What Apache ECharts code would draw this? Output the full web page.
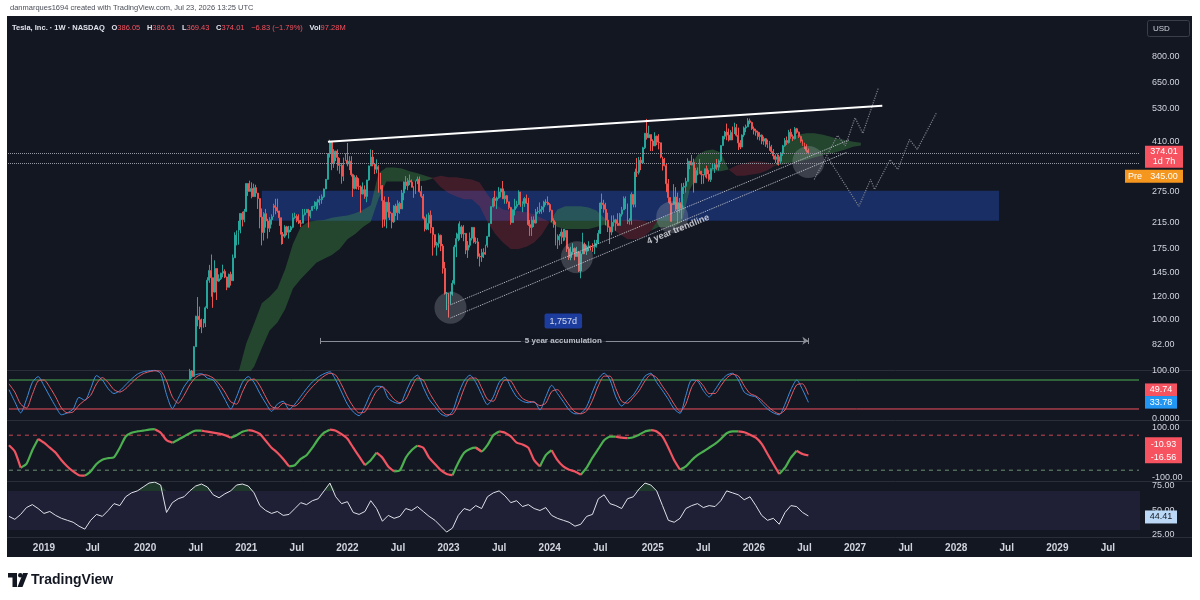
<!DOCTYPE html>
<html>
<head>
<meta charset="utf-8">
<title>Tesla, Inc. 1W</title>
<script src="https://cdn.jsdelivr.net/npm/echarts@6/dist/echarts.min.js"></script>
<style>
  html, body { margin: 0; padding: 0; background: #fff; }
  #main { width: 1200px; height: 600px; }
</style>
</head>
<body>
<div id="main"></div>
<script>
// weekly TSLA bars (split adjusted), first bar = week of 2020-06-01, open of a bar = previous close
const candleStart = '2020-06-01';
const firstOpen = 55.7;
const closes = [
  59.9, 62.4, 66.8, 64.0, 80.9, 102.9, 100.1, 94.5, 99.0, 97.5, 110.0, 136.7, 147.6, 139.4, 124.5, 150.0, 135.8, 138.4, 144.6, 146.6, 140.2, 129.3, 143.3, 136.2, 163.2, 195.3, 199.7, 203.3, 231.7, 220.6, 235.2,
  293.3, 275.6, 282.2, 264.5, 284.0, 272.0, 260.4, 225.2, 199.3, 231.2, 218.3, 206.2, 220.6, 225.7, 246.3, 243.0, 236.3, 224.0, 196.6, 193.6, 208.4, 199.7, 203.3, 207.7, 224.0, 226.3, 219.0, 214.7, 214.5, 229.1, 233.0, 239.1, 226.8, 237.3, 244.5, 245.4, 253.2, 258.1, 258.4, 264.0, 281.0, 303.2, 371.3, 407.4, 344.5, 379.0, 360.6, 338.3, 339.0, 310.7, 355.6, 352.3,
  342.3, 349.9, 314.6, 282.1, 307.8, 286.7, 285.7, 270.0, 279.4, 265.0, 301.8, 336.9, 361.5, 341.8, 328.3, 335.0, 290.3, 288.6, 256.5, 221.3, 253.2, 234.5, 232.2, 216.8, 245.7, 233.1, 250.8, 240.1, 272.2, 297.1, 288.2, 300.0, 296.7, 284.8, 270.2, 299.7, 303.4, 275.3, 265.3, 223.1, 204.9, 214.4, 228.5, 207.5, 195.9, 180.2, 182.9, 194.9, 179.1, 150.2, 123.2, 123.2,
  113.1, 122.4, 133.4, 177.9, 189.9, 196.9, 208.3, 196.9, 197.8, 173.4, 180.1, 190.4, 207.5, 185.0, 185.0, 165.1, 164.3, 170.1, 168.0, 180.1, 193.2, 214.0, 244.4, 260.5, 256.6, 261.8, 274.4, 281.4, 260.0, 266.4, 253.9, 242.6, 215.5, 238.6, 245.0, 248.5, 274.4, 244.9, 250.2, 260.5, 251.1, 212.0, 207.3, 220.0, 214.7, 234.3, 235.5, 238.8, 243.8, 253.5, 252.5, 248.5,
  237.5, 218.9, 212.2, 183.3, 187.9, 193.6, 200.0, 192.0, 202.6, 175.3, 163.6, 170.8, 175.8, 164.9, 171.1, 147.1, 168.3, 181.2, 171.9, 177.5, 179.2, 178.1, 177.5, 178.0, 183.0, 197.9, 251.5, 248.2, 239.2, 219.8, 207.7, 200.0, 216.1, 220.3, 214.1, 210.7, 230.3, 238.3, 260.5, 250.1, 217.8, 218.9, 269.2, 249.0, 321.2, 320.7, 352.6, 345.2, 389.2, 436.2, 421.1, 431.7, 410.4,
  394.7, 426.5, 406.6, 404.6, 361.6, 355.8, 337.8, 293.0, 262.7, 250.0, 248.7, 263.6, 239.4, 252.3, 241.4, 285.0, 287.2, 298.3, 350.0, 339.3, 346.5, 295.1, 325.3, 322.2, 323.6, 315.4, 313.5, 329.7, 316.1, 302.6, 329.7, 330.6, 340.0, 333.9, 350.8, 395.9, 426.1, 440.4, 429.8, 413.5, 439.3, 433.7, 456.6, 429.5, 404.4, 391.1, 430.2, 455.0, 459.0, 481.2, 475.2, 452.0,
  445.0, 440.0, 425.0, 430.0, 410.0, 418.0, 400.0, 405.0, 392.0, 378.0, 365.0, 355.0, 362.0, 350.0, 372.0, 395.0, 412.0, 405.0, 440.0, 425.0, 418.0, 452.0, 440.0, 425.0, 410.0, 400.0, 392.0, 380.84, 374.01
];
const highs = [
  61.5, 67.0, 67.9, 67.3, 81.2, 103.3, 119.7, 111.0, 101.0, 100.7, 111.2, 140.0, 154.3, 167.5, 132.7, 160.0, 150.0, 143.2, 145.0, 154.6, 149.0, 140.5, 144.0, 146.2, 167.5, 199.6, 202.5, 218.4, 231.7, 234.8, 240.0,
  294.0, 290.0, 300.1, 296.0, 293.0, 290.5, 266.2, 256.0, 241.0, 234.0, 240.0, 222.0, 225.0, 230.0, 250.0, 260.0, 260.3, 236.0, 220.0, 200.0, 211.0, 210.0, 210.0, 210.0, 232.0, 233.0, 230.0, 230.0, 220.0, 240.0, 240.0, 240.0, 240.0, 238.0, 246.0, 255.0, 254.0, 260.0, 266.0, 269.0, 282.0, 304.0, 371.7, 414.5, 385.0, 385.0, 380.0, 384.0, 359.0, 345.0, 360.0, 372.0,
  404.0, 364.0, 364.0, 317.0, 313.0, 313.0, 306.0, 289.0, 296.0, 289.0, 302.0, 338.0, 384.0, 382.0, 345.0, 355.0, 339.0, 319.0, 290.0, 265.0, 253.5, 264.0, 253.0, 232.0, 247.0, 250.0, 257.0, 254.0, 279.0, 298.0, 311.0, 306.0, 315.0, 303.0, 287.0, 300.0, 310.0, 310.0, 288.0, 270.0, 226.0, 230.0, 233.0, 237.0, 208.0, 196.0, 185.0, 198.0, 196.0, 182.0, 158.0, 124.5,
  118.8, 125.0, 136.7, 180.7, 199.0, 214.0, 217.6, 211.0, 211.2, 198.6, 186.2, 199.3, 207.8, 198.6, 191.8, 190.7, 169.0, 175.2, 176.0, 181.0, 194.0, 214.0, 245.0, 263.6, 276.9, 264.5, 285.0, 282.0, 299.3, 276.0, 268.0, 250.9, 244.0, 239.0, 260.0, 256.0, 278.0, 275.0, 254.8, 263.6, 268.9, 262.0, 220.0, 226.0, 226.4, 240.0, 244.0, 252.7, 246.0, 256.0, 259.0, 265.0,
  251.3, 238.5, 223.0, 217.0, 196.4, 197.0, 205.6, 205.0, 205.0, 198.0, 178.0, 178.0, 183.0, 177.0, 178.0, 169.0, 171.0, 198.9, 184.0, 179.6, 186.0, 180.0, 183.0, 188.0, 188.0, 203.0, 252.4, 271.0, 258.0, 252.0, 233.0, 209.0, 228.0, 228.2, 222.0, 232.0, 232.7, 244.0, 264.9, 265.0, 250.0, 223.0, 273.5, 263.0, 330.0, 358.6, 361.9, 361.9, 392.0, 436.3, 488.5, 463.0, 416.0,
  416.0, 439.7, 428.0, 433.0, 384.0, 362.7, 359.1, 342.4, 303.9, 253.4, 251.0, 291.9, 285.0, 273.0, 261.5, 294.0, 294.9, 307.0, 358.0, 350.0, 367.7, 357.0, 332.0, 333.0, 356.3, 318.5, 315.0, 330.0, 338.0, 326.0, 330.0, 345.0, 345.0, 356.0, 355.0, 396.7, 427.0, 444.2, 470.8, 453.0, 447.0, 460.0, 474.1, 469.0, 456.0, 413.0, 432.0, 460.0, 467.0, 491.5, 490.0, 478.0,
  460.0, 452.0, 445.0, 440.0, 432.0, 425.0, 420.0, 415.0, 410.0, 398.0, 385.0, 370.0, 372.0, 368.0, 376.0, 398.0, 420.0, 425.0, 448.0, 452.0, 432.0, 458.0, 455.0, 442.0, 428.0, 415.0, 405.0, 400.0, 386.61
];
const lows = [
  58.5, 60.8, 62.0, 63.0, 64.0, 82.0, 95.0, 93.0, 90.0, 94.0, 94.5, 109.0, 134.0, 120.0, 110.0, 124.0, 117.0, 135.0, 137.0, 140.0, 139.0, 126.4, 130.0, 131.0, 136.0, 166.0, 180.0, 181.0, 198.0, 209.0, 216.0,
  239.0, 266.0, 276.0, 261.0, 265.0, 264.0, 240.0, 206.0, 180.0, 187.0, 207.0, 190.0, 200.0, 212.0, 228.0, 230.0, 233.0, 210.0, 181.0, 182.0, 191.0, 195.0, 190.0, 200.0, 206.0, 222.0, 216.0, 213.0, 208.0, 215.0, 228.0, 233.0, 207.0, 223.0, 236.0, 240.0, 237.0, 240.0, 247.0, 250.0, 262.0, 282.0, 302.0, 360.0, 326.0, 332.0, 350.0, 325.0, 317.0, 293.0, 299.0, 350.0,
  336.0, 326.0, 310.0, 264.0, 280.0, 280.0, 279.0, 233.0, 269.0, 260.0, 253.0, 300.0, 340.0, 336.0, 316.0, 318.0, 273.0, 280.0, 206.9, 209.0, 206.0, 224.0, 220.0, 206.0, 215.0, 227.0, 220.0, 231.0, 240.0, 257.0, 280.0, 278.0, 290.0, 285.0, 262.0, 274.0, 292.0, 273.0, 262.0, 221.0, 201.0, 203.0, 203.0, 198.0, 166.0, 177.0, 166.0, 177.0, 172.0, 144.0, 122.0, 108.0,
  101.8, 114.0, 121.0, 132.0, 164.0, 186.0, 188.0, 191.0, 186.0, 168.0, 163.0, 177.0, 187.0, 183.0, 182.0, 162.0, 152.4, 158.0, 163.0, 167.0, 177.0, 198.0, 213.0, 243.0, 245.0, 240.0, 260.0, 263.0, 260.0, 250.0, 250.0, 239.0, 212.0, 215.0, 228.0, 241.0, 249.0, 244.0, 234.0, 244.0, 250.0, 210.0, 194.0, 194.0, 208.0, 214.0, 231.0, 231.0, 231.0, 234.0, 247.0, 247.0,
  234.0, 216.0, 207.0, 180.0, 175.0, 180.0, 182.0, 186.0, 187.0, 171.0, 160.5, 160.0, 168.0, 160.0, 166.0, 146.0, 138.8, 174.0, 168.0, 167.0, 172.0, 173.0, 171.0, 168.0, 177.0, 182.0, 197.0, 240.0, 233.0, 211.0, 200.0, 182.0, 195.0, 209.0, 202.0, 210.0, 212.0, 226.0, 241.0, 240.0, 213.0, 212.0, 212.0, 243.0, 243.0, 309.0, 315.0, 326.0, 351.0, 385.0, 415.0, 426.0, 379.0,
  379.0, 402.0, 397.0, 384.0, 358.0, 325.0, 336.0, 274.0, 252.0, 217.0, 217.0, 260.0, 236.0, 214.3, 233.0, 222.0, 270.0, 273.0, 323.0, 328.0, 339.0, 273.2, 305.0, 313.0, 317.0, 292.0, 293.0, 308.0, 305.0, 298.0, 297.0, 328.0, 319.0, 327.0, 325.0, 347.0, 396.0, 416.0, 413.0, 409.0, 420.0, 413.0, 437.0, 425.0, 382.0, 385.0, 407.0, 424.0, 440.0, 461.0, 469.0, 448.0,
  432.0, 428.0, 415.0, 412.0, 400.0, 398.0, 392.0, 388.0, 380.0, 372.0, 355.0, 345.0, 340.0, 338.0, 345.0, 365.0, 392.0, 398.0, 402.0, 418.0, 410.0, 415.0, 435.0, 420.0, 405.0, 395.0, 385.0, 375.0, 369.43
];

// ichimoku cloud, one value every 4 weeks from cloudStart
const cloudStart = '2020-12-07';
const spanA = [
  66, 83, 97, 114, 120, 128, 149, 182, 208, 217, 219, 220, 224, 226, 228, 232, 238, 247, 318, 333,
  333, 330, 323, 318, 312, 305, 285, 272, 265, 259, 259, 245, 217, 197, 184, 175, 175, 178, 184, 196,
  217, 239, 245, 245, 245, 243, 237, 224, 205, 197, 189, 189, 192, 202, 222, 227, 231, 249, 333, 368,
  380, 384, 375, 328, 312, 312, 315, 318, 326, 338, 389, 420, 432, 436, 436, 432, 425, 418, 414, 408, 405
];
const spanB = [
  55, 64, 69, 80, 92, 98, 109, 128, 138, 147, 157, 162, 167, 175, 189, 197, 208, 217, 260, 298,
  298, 298, 298, 298, 300, 307, 312, 308, 308, 305, 303, 296, 269, 249, 239, 236, 236, 234, 230, 223,
  217, 208, 205, 205, 205, 205, 208, 212, 217, 219, 221, 221, 219, 215, 208, 208, 208, 217, 280, 313,
  320, 323, 323, 328, 338, 344, 349, 349, 346, 340, 341, 346, 349, 354, 360, 366, 371, 377, 384, 392, 396
];

// lower panes, one value every 3 weeks from the first week on the chart (2018-09-03)
const stochK = [
  60, 35, 12, 40, 75, 87, 68, 46, 25, 8, 12, 20, 44, 38, 62, 89, 80, 62, 52, 58,
  70, 82, 92, 97, 99, 100, 93, 50, 21, 42, 66, 82, 91, 93, 84, 80, 62, 40, 20, 45,
  75, 87, 75, 52, 32, 15, 30, 36, 19, 30, 46, 62, 76, 86, 93, 97, 80, 55, 30, 14,
  6, 25, 52, 67, 66, 42, 34, 31, 55, 80, 90, 65, 40, 25, 10, 5, 15, 50, 78, 90,
  75, 50, 29, 45, 75, 86, 65, 45, 36, 33, 35, 18, 45, 69, 52, 35, 18, 10, 11, 25,
  55, 82, 94, 80, 45, 26, 38, 49, 68, 88, 94, 75, 58, 40, 20, 11, 48, 80, 78, 58,
  45, 60, 78, 90, 94, 80, 55, 48, 45, 32, 20, 12, 8, 30, 60, 80, 60, 33.78
];
const stochD = [
  72, 55, 30, 22, 50, 78, 80, 65, 45, 22, 12, 14, 28, 38, 48, 72, 85, 75, 60, 55,
  62, 74, 85, 93, 97, 99, 98, 78, 45, 32, 48, 70, 85, 91, 90, 84, 72, 55, 35, 30,
  55, 78, 82, 68, 45, 25, 22, 32, 28, 26, 36, 52, 66, 78, 88, 94, 90, 70, 45, 25,
  12, 14, 35, 57, 66, 55, 40, 33, 40, 65, 84, 80, 55, 35, 18, 8, 9, 30, 62, 84,
  84, 64, 40, 36, 60, 80, 78, 58, 42, 36, 34, 27, 32, 56, 60, 45, 28, 14, 10, 16,
  38, 68, 88, 88, 62, 36, 32, 44, 58, 78, 91, 85, 67, 50, 30, 15, 30, 65, 80, 68,
  52, 52, 68, 84, 92, 88, 68, 52, 47, 38, 26, 16, 10, 18, 45, 70, 72, 49.74
];
const wave = [
  30, 5, -60, -45, 10, 55, 40, 20, 0, -30, -55, -75, -90, -92, -75, -45, -28, -22, -18, 20,
  65, 80, 85, 88, 92, 94, 80, 50, 40, 52, 65, 78, 88, 88, 84, 80, 76, 70, 60, 70,
  84, 90, 86, 75, 48, 20, 0, -25, -55, -50, -25, -10, 20, 55, 80, 92, 88, 74, 56, 20,
  -15, -50, -30, 0, -20, -55, -75, -70, -20, 10, 28, 20, -20, -45, -70, -85, -90, -40, 0, 15,
  20, 5, 30, 70, 85, 80, 65, 40, 33, 20, -30, -55, -10, 10, -30, -55, -68, -75, -88, -60,
  -20, 15, 50, 64, 64, 60, 58, 62, 72, 85, 90, 85, 64, 20, -30, -68, -55, -30, -10, 5,
  20, 35, 55, 78, 85, 85, 82, 72, 60, 35, -5, -45, -85, -60, -20, 8, -5, -10.93
];
const waveSignalLast = -16.56;
const rsi = [
  44, 41, 46, 53, 56, 52, 47, 49, 45, 42, 40, 38, 34, 31, 40, 46, 44, 50, 57, 55,
  64, 68, 70, 74, 78, 79, 76, 48, 58, 62, 64, 70, 75, 77, 74, 66, 63, 67, 70, 76,
  77, 75, 68, 55, 50, 47, 49, 45, 46, 52, 58, 56, 60, 62, 70, 78, 64, 57, 59, 48,
  46, 49, 60, 52, 39, 45, 42, 44, 52, 50, 54, 49, 44, 40, 34, 28, 32, 45, 52, 50,
  55, 52, 64, 68, 70, 65, 58, 60, 54, 56, 52, 50, 53, 45, 42, 40, 38, 34, 36, 44,
  46, 62, 66, 57, 55, 52, 62, 64, 72, 78, 76, 70, 55, 40, 38, 42, 52, 55, 57, 53,
  55, 54, 60, 70, 68, 66, 61, 64, 55, 45, 40, 42, 36, 48, 55, 54, 48, 44.41
];

// drawings on the price pane: [week, price]
const resistance = [['2021-10-25', 408], ['2027-04-12', 542]];
const trendUpper = [['2023-01-09', 112.6], ['2026-12-14', 414]];
const trendLower = [['2023-01-09', 101.5], ['2026-12-07', 376]];
const highlights = [['2023-01-09', 110], ['2024-04-08', 164], ['2025-03-17', 225], ['2026-07-20', 348]];
const zone = [['2021-03-01', 277], ['2028-06-05', 218.5]];
const accumulation = [['2021-09-27', 84.7], ['2026-07-20', 84.7]];
const accumTicks = [82.6, 86.7];
const pathNear = [['2026-08-10', 303], ['2026-11-02', 429], ['2026-11-30', 395], ['2027-01-04', 493], ['2027-02-01', 436], ['2027-03-29', 624]];
const pathFar = [['2026-09-28', 360], ['2027-01-18', 245], ['2027-03-01', 303], ['2027-03-15', 280], ['2027-05-10', 354], ['2027-06-07', 328], ['2027-07-19', 415], ['2027-08-16', 384], ['2027-10-25', 515]];
const notes = [
  ['2025-04-07', 204, '4 year trendline'],
  ['2024-02-19', 99, '1,757d'],
  ['2024-02-19', 84.7, '5 year accumulation']
];

const lastClose = 374.01;
const preMarket = 345.0;
const priceTicks = [800, 650, 530, 410, 275, 215, 175, 145, 120, 100, 82];
const priceView = [67.3, 1101];

const font = '"Liberation Sans", Arial, sans-serif';
const L = Math.log;

// one category per week, 2018-09-03 .. 2029
const weeks = [];
for (let t = Date.UTC(2018, 8, 3); weeks.length < 582; t += 7 * 864e5) {
  weeks.push(new Date(t).toISOString().slice(0, 10));
}

const c0 = weeks.indexOf(candleStart);
const candleRows = closes.map((c, i) => {
  const o = i ? closes[i - 1] : firstOpen;
  return [weeks[c0 + i], L(o), L(c), L(Math.min(lows[i], o, c)), L(Math.max(highs[i], o, c))];
});

const cs = weeks.indexOf(cloudStart);
const cloudBase = [], cloudUp = [], cloudDn = [];
spanA.forEach((a, s) => {
  const d = weeks[cs + 4 * s];
  const la = L(a), lb = L(spanB[s]);
  cloudBase.push([d, Math.min(la, lb)]);
  cloudUp.push([d, Math.max(la - lb, 0)]);
  cloudDn.push([d, Math.max(lb - la, 0)]);
});

const every3 = arr => arr.map((v, k) => [weeks[k * 3], v]);
// green while rising, red while falling (each step belongs to one of the two)
const rising = wave.map((v, k) => k < wave.length - 1 ? wave[k + 1] >= v : null);
const waveUp = [], waveDn = [];
wave.forEach((v, k) => {
  const before = k > 0 ? rising[k - 1] : null, after = rising[k];
  waveUp.push([weeks[k * 3], before === true || after === true ? v : null]);
  waveDn.push([weeks[k * 3], before === false || after === false ? v : null]);
});
const rsiBase = rsi.map((v, k) => [weeks[k * 3], 70]);
const rsiOver = rsi.map((v, k) => [weeks[k * 3], Math.max(v - 70, 0)]);

const pt = p => ({ coord: [p[0], L(p[1])] });
const hidden = { show: false };

const chart = echarts.init(document.getElementById('main'));

const grids = [
  { left: 8, right: 60, top: 16, height: 354 },
  { left: 8, right: 60, top: 370, height: 50 },
  { left: 8, right: 60, top: 421, height: 60 },
  { left: 8, right: 60, top: 482, height: 55 }
].map(g => Object.assign(g, { containLabel: false, outerBoundsMode: 'none' }));

const xAxes = [0, 1, 2, 3].map(g => ({
  type: 'category', gridIndex: g, data: weeks, boundaryGap: true,
  axisLine: hidden, axisTick: hidden, splitLine: hidden,
  axisLabel: g < 3 ? hidden : {
    interval: (i, v) => +v.slice(8) <= 7 && (v.slice(5, 7) === '01' || v.slice(5, 7) === '07'),
    formatter: v => v.slice(5, 7) === '01' ? v.slice(0, 4) : 'Jul',
    color: '#d1d4dc', fontSize: 10, fontWeight: 'bold', margin: 6, fontFamily: font
  }
}));

const yLabel = (values, fmt) => ({
  customValues: values, formatter: fmt, color: '#d1d4dc', fontSize: 9, margin: 12, fontFamily: font
});
const yBase = { type: 'value', position: 'right', axisLine: hidden, axisTick: hidden, splitLine: hidden };
const yAxes = [
  Object.assign({ gridIndex: 0, min: L(priceView[0]), max: L(priceView[1]),
    axisLabel: yLabel(priceTicks.map(L), v => Math.exp(v).toFixed(2)) }, yBase),
  Object.assign({ gridIndex: 1, min: -2.8, max: 100.7,
    axisLabel: yLabel([100, 0], v => v === 0 ? '0.0000' : v.toFixed(2)) }, yBase),
  Object.assign({ gridIndex: 2, min: -113.2, max: 126.8,
    axisLabel: yLabel([100, -100], v => v.toFixed(2)) }, yBase),
  Object.assign({ gridIndex: 3, min: 22.96, max: 79.08,
    axisLabel: yLabel([75, 50, 25], v => v.toFixed(2)) }, yBase)
];

// flat level line across a pane
const level = (pane, value, color, type) => ({
  type: 'line', xAxisIndex: pane, yAxisIndex: pane, silent: true, symbol: 'none', z: 2,
  data: [[weeks[0], value], [weeks[weeks.length - 1], value]],
  lineStyle: { color, width: 1, type }
});

const noLine = { opacity: 0 };
const series = [
  { type: 'line', name: 'cloudBase', xAxisIndex: 0, yAxisIndex: 0, stack: 'cloud', data: cloudBase,
    symbol: 'none', lineStyle: noLine, silent: true, z: 1 },
  { type: 'line', name: 'cloudUp', xAxisIndex: 0, yAxisIndex: 0, stack: 'cloud', data: cloudUp,
    symbol: 'none', lineStyle: noLine, areaStyle: { color: 'rgba(67,160,71,0.5)' }, silent: true, z: 1 },
  { type: 'line', name: 'cloudDn', xAxisIndex: 0, yAxisIndex: 0, stack: 'cloud', data: cloudDn,
    symbol: 'none', lineStyle: noLine, areaStyle: { color: 'rgba(242,54,69,0.3)' }, silent: true, z: 1 },
  {
    type: 'candlestick', name: 'TSLA', xAxisIndex: 0, yAxisIndex: 0, z: 3, clip: true,
    dimensions: ['date', 'open', 'close', 'lowest', 'highest'],
    encode: { x: 0, y: [1, 2, 3, 4] },
    data: candleRows, barWidth: '72%',
    itemStyle: { color: '#26a69a', color0: '#ef5350', borderColor: '#26a69a', borderColor0: '#ef5350', borderWidth: 1 },
    markArea: {
      silent: true, itemStyle: { color: 'rgba(41,98,255,0.3)' },
      data: [[pt(zone[0]), pt(zone[1])]]
    },
    markLine: {
      silent: true, symbol: 'none', label: hidden, animation: false,
      data: [
        { yAxis: L(lastClose), lineStyle: { type: 'dotted', color: '#9598a1', width: 1 } },
        { yAxis: L(preMarket), lineStyle: { type: 'dotted', color: '#9598a1', width: 1 } },
        [Object.assign(pt(resistance[0]), { lineStyle: { type: 'solid', color: '#ffffff', width: 2 } }), pt(resistance[1])],
        [Object.assign(pt(trendUpper[0]), { lineStyle: { type: 'dotted', color: '#c3c6ce', width: 1 } }), pt(trendUpper[1])],
        [Object.assign(pt(trendLower[0]), { lineStyle: { type: 'dotted', color: '#c3c6ce', width: 1 } }), pt(trendLower[1])],
        [Object.assign(pt(accumulation[0]), { lineStyle: { type: 'solid', color: '#8a8d96', width: 1 } }),
          Object.assign(pt(accumulation[1]), { symbol: 'arrow', symbolSize: 6 })],
        [{ coord: [accumulation[0][0], L(accumTicks[0])], lineStyle: { type: 'solid', color: '#8a8d96', width: 1 } },
          { coord: [accumulation[0][0], L(accumTicks[1])] }],
        [{ coord: [accumulation[1][0], L(accumTicks[0])], lineStyle: { type: 'solid', color: '#8a8d96', width: 1 } },
          { coord: [accumulation[1][0], L(accumTicks[1])] }]
      ]
    }
  },
  { type: 'scatter', name: 'highlights', xAxisIndex: 0, yAxisIndex: 0, z: 4, silent: true,
    data: highlights.map(p => [p[0], L(p[1])]), symbolSize: 32,
    itemStyle: { color: 'rgba(190,192,200,0.3)' } },
  { type: 'line', name: 'pathNear', xAxisIndex: 0, yAxisIndex: 0, z: 4, silent: true, symbol: 'none',
    data: pathNear.map(p => [p[0], L(p[1])]), lineStyle: { type: 'dotted', color: '#7d808a', width: 1.2 } },
  { type: 'line', name: 'pathFar', xAxisIndex: 0, yAxisIndex: 0, z: 4, silent: true, symbol: 'none',
    data: pathFar.map(p => [p[0], L(p[1])]), lineStyle: { type: 'dotted', color: '#7d808a', width: 1.2 } },
  { type: 'scatter', name: 'notes', xAxisIndex: 0, yAxisIndex: 0, z: 6, silent: true, symbolSize: 0,
    data: [
      { value: [notes[0][0], L(notes[0][1])], label: { show: true, position: 'inside', rotate: 22, formatter: notes[0][2],
        color: '#e8e9ee', fontSize: 9, fontWeight: 'bold', fontFamily: font } },
      { value: [notes[1][0], L(notes[1][1])], label: { show: true, position: 'inside', formatter: notes[1][2],
        color: '#ffffff', fontSize: 9, fontFamily: font, backgroundColor: '#1f47bd', padding: [3, 5], borderRadius: 2 } },
      { value: [notes[2][0], L(notes[2][1])], label: { show: true, position: 'inside', formatter: notes[2][2],
        color: '#e0e3eb', fontSize: 8, fontWeight: 'bold', fontFamily: font, backgroundColor: '#131722', padding: [1, 4] } }
    ] },

  level(1, 80, '#4caf50', 'solid'),
  level(1, 20, '#f04f5c', 'solid'),
  { type: 'line', name: 'K', xAxisIndex: 1, yAxisIndex: 1, data: every3(stochK), symbol: 'none', smooth: 0.25,
    lineStyle: { color: '#3d8fe0', width: 1 }, z: 3 },
  { type: 'line', name: 'D', xAxisIndex: 1, yAxisIndex: 1, data: every3(stochD), symbol: 'none', smooth: 0.25,
    lineStyle: { color: '#e35d6a', width: 1 }, z: 3 },

  level(2, 70, 'rgba(242,84,95,0.8)', [4, 4]),
  level(2, -70, 'rgba(140,185,140,0.75)', [4, 4]),
  { type: 'line', name: 'waveUp', xAxisIndex: 2, yAxisIndex: 2, data: waveUp, symbol: 'none', smooth: 0.2,
    lineStyle: { color: '#4caf50', width: 2.2 }, z: 3 },
  { type: 'line', name: 'waveDn', xAxisIndex: 2, yAxisIndex: 2, data: waveDn, symbol: 'none', smooth: 0.2,
    lineStyle: { color: '#f05361', width: 2.2 }, z: 3 },

  { type: 'line', name: 'rsiBase', xAxisIndex: 3, yAxisIndex: 3, stack: 'rsi', data: rsiBase, symbol: 'none',
    lineStyle: noLine, silent: true, z: 2 },
  { type: 'line', name: 'rsiOver', xAxisIndex: 3, yAxisIndex: 3, stack: 'rsi', data: rsiOver, symbol: 'none',
    lineStyle: noLine, areaStyle: { color: 'rgba(76,175,80,0.3)' }, silent: true, z: 2 },
  { type: 'line', name: 'RSI', xAxisIndex: 3, yAxisIndex: 3, data: every3(rsi), symbol: 'none',
    lineStyle: { color: '#dfe1e8', width: 1 }, z: 3,
    markArea: { silent: true, itemStyle: { color: 'rgba(126,87,194,0.12)' }, data: [[{ yAxis: 70 }, { yAxis: 30 }]] } }
];

const txtStyle = (text, fill, size, weight, align) => ({
  text, fill, font: (weight || 'normal') + ' ' + size + 'px ' + font,
  align: align || 'left', verticalAlign: 'middle', textAlign: align || 'left', textVerticalAlign: 'middle'
});

const baseGraphic = [
  { type: 'rect', z: -10, silent: true, shape: { x: 7, y: 16, width: 1185, height: 541 }, style: { fill: '#131722' } },
  { type: 'line', z: 0, silent: true, shape: { x1: 7, y1: 370.5, x2: 1192, y2: 370.5 }, style: { stroke: '#2a2e39', lineWidth: 1 } },
  { type: 'line', z: 0, silent: true, shape: { x1: 7, y1: 420.5, x2: 1192, y2: 420.5 }, style: { stroke: '#2a2e39', lineWidth: 1 } },
  { type: 'line', z: 0, silent: true, shape: { x1: 7, y1: 481.5, x2: 1192, y2: 481.5 }, style: { stroke: '#2a2e39', lineWidth: 1 } },
  { type: 'line', z: 0, silent: true, shape: { x1: 7, y1: 537.5, x2: 1192, y2: 537.5 }, style: { stroke: '#2a2e39', lineWidth: 1 } },
  { type: 'text', silent: true, x: 10, y: 8, style: txtStyle('danmarques1694 created with TradingView.com, Jul 23, 2026 13:25 UTC', '#4a4e59', 7.5) },
  { type: 'text', silent: true, x: 12, y: 28, style: {
      text: '{t|Tesla, Inc. · 1W · NASDAQ}  {k|O}{v|386.05}  {k|H}{v|386.61}  {k|L}{v|369.43}  {k|C}{v|374.01}  {v|−6.83 (−1.79%)}  {k|Vol}{v|97.28M}',
      verticalAlign: 'middle', textVerticalAlign: 'middle',
      rich: {
        t: { fill: '#e0e3eb', fontSize: 7.5, fontFamily: font, fontWeight: 'bold' },
        k: { fill: '#e0e3eb', fontSize: 7.5, fontFamily: font, fontWeight: 'bold' },
        v: { fill: '#f7525f', fontSize: 7.5, fontFamily: font }
      } } },
  { type: 'rect', silent: true, z: 5, shape: { x: 1147.5, y: 20.5, width: 42, height: 16, r: 2 }, style: { fill: '#131722', stroke: '#3a3e4a', lineWidth: 1 } },
  { type: 'text', silent: true, z: 6, x: 1153, y: 28.5, style: txtStyle('USD', '#d1d4dc', 8) },
  // TradingView mark
  { type: 'polygon', silent: true, shape: { points: [[8, 573], [17, 573], [17, 587], [12.5, 587], [12.5, 577.5], [8, 577.5]] }, style: { fill: '#131722' } },
  { type: 'circle', silent: true, shape: { cx: 20.3, cy: 575.3, r: 2.3 }, style: { fill: '#131722' } },
  { type: 'polygon', silent: true, shape: { points: [[23, 573], [28, 573], [22.5, 587], [17.5, 587]] }, style: { fill: '#131722' } },
  { type: 'text', silent: true, x: 31, y: 580.5, style: txtStyle('TradingView', '#131722', 14, 'bold') }
];

chart.setOption({
  animation: false,
  backgroundColor: '#ffffff',
  grid: grids,
  xAxis: xAxes,
  yAxis: yAxes,
  series: series,
  graphic: baseGraphic
});

// value tags on the price scale
const tags = [];
const box = (x, y, w, h, fill) => tags.push({ type: 'rect', silent: true, z: 100, shape: { x, y, width: w, height: h }, style: { fill } });
const tagText = (x, y, text, fill) => tags.push({ type: 'text', silent: true, z: 101, x, y, style: txtStyle(text, fill, 9, 'normal', 'center') });

const yP = chart.convertToPixel({ yAxisIndex: 0 }, L(lastClose));
box(1145, yP - 7, 38, 22, '#f7525f');
tagText(1164, yP - 1, lastClose.toFixed(2), '#ffffff');
tagText(1164, yP + 9, '1d 7h', '#ffffff');
const yPre = yP + 17;
box(1125, yPre, 20, 13, '#f5961f');
box(1145, yPre, 38, 13, '#f5961f');
tagText(1135, yPre + 6.5, 'Pre', '#ffffff');
tagText(1164, yPre + 6.5, preMarket.toFixed(2), '#ffffff');

const kLast = stochK[stochK.length - 1], dLast = stochD[stochD.length - 1];
const yK = chart.convertToPixel({ yAxisIndex: 1 }, kLast);
box(1145, yK - 6.3, 32, 12.6, '#2196f3');
box(1145, yK - 18.9, 32, 12.6, '#f7525f');
tagText(1161, yK, kLast.toFixed(2), '#ffffff');
tagText(1161, yK - 12.6, dLast.toFixed(2), '#ffffff');

const wLast = wave[wave.length - 1];
const yW = chart.convertToPixel({ yAxisIndex: 2 }, waveSignalLast);
box(1145, yW - 19.5, 37, 26, '#f7525f');
tagText(1163.5, yW - 12.5, wLast.toFixed(2), '#ffffff');
tagText(1163.5, yW + 0.5, waveSignalLast.toFixed(2), '#ffffff');

const rLast = rsi[rsi.length - 1];
const yR = chart.convertToPixel({ yAxisIndex: 3 }, rLast);
box(1145, yR - 5.5, 32, 13, '#bbd9f7');
tagText(1161, yR + 1, rLast.toFixed(2), '#131722');

chart.setOption({ graphic: baseGraphic.concat(tags) });
</script>
</body>
</html>
